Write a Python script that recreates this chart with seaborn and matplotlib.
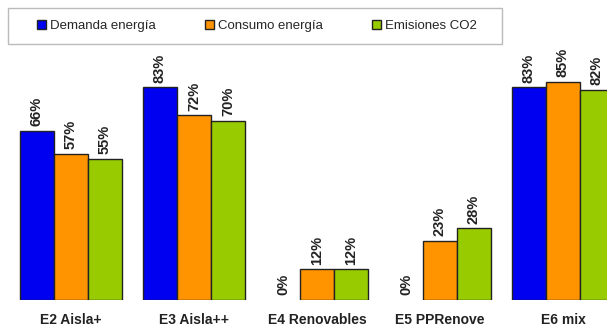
import pandas as pd
import seaborn as sns
import matplotlib.pyplot as plt
from matplotlib.patches import Rectangle

categories = ["E2 Aisla+", "E3 Aisla++", "E4 Renovables", "E5 PPRenove", "E6 mix"]
series = ["Demanda energía", "Consumo energía", "Emisiones CO2"]
demanda = [66, 83, 0, 0, 83]
consumo = [57, 72, 12, 23, 85]
emisiones = [55, 70, 12, 28, 82]
colors = ["#0000F0", "#FF9400", "#99CC00"]

rows = []
for s, vals in zip(series, [demanda, consumo, emisiones]):
    for c, v in zip(categories, vals):
        rows.append({"cat": c, "serie": s, "val": v})
df = pd.DataFrame(rows)

sns.set_style("white")
plt.rcParams["font.family"] = ["Liberation Sans", "DejaVu Sans"]

fig = plt.figure(figsize=(6.07, 3.29), dpi=100)
ax = fig.add_axes([0, 29 / 329, 1, 300 / 329])

sns.barplot(data=df, x="cat", y="val", hue="serie", order=categories,
            hue_order=series, palette=colors, width=0.83,
            edgecolor="#222222", linewidth=1, saturation=1, ax=ax)

# value labels, rotated; hide zero bars (no baseline stroke)
for cont in ax.containers:
    for bar in cont:
        h = bar.get_height()
        if h == 0:
            bar.set_visible(False)
        ax.text(bar.get_x() + bar.get_width() / 2, h + 1.8, f"{h:.0f}%",
                rotation=90, ha="center", va="bottom", fontsize=10.5,
                fontweight="bold", color="#222222")

ax.set_xlim(-0.577, 4.358)
ax.set_ylim(0, 117)
ax.set_xlabel("")
ax.set_ylabel("")
ax.set_yticks([])
ax.tick_params(axis="x", length=0, pad=9, labelsize=10)
for lab in ax.get_xticklabels():
    lab.set_fontweight("bold")
    lab.set_color("#222222")
sns.despine(ax=ax, left=True, bottom=True)

# legend frame drawn separately
fig.patches.append(Rectangle((8 / 607, 1 - 44 / 329), 494 / 607, 36 / 329,
                             transform=fig.transFigure, facecolor="white",
                             edgecolor="#bbbbbb", linewidth=1, zorder=0))
handles, labels = ax.get_legend_handles_labels()
ax.get_legend().remove()
fig.legend(handles, labels, ncol=3, loc="center",
           bbox_to_anchor=(257 / 607, 1 - 26 / 329), fontsize=9.5,
           frameon=False, handlelength=0.7, handleheight=0.7,
           handletextpad=0.3, columnspacing=3.7)

fig.savefig("out.png", dpi=100)
